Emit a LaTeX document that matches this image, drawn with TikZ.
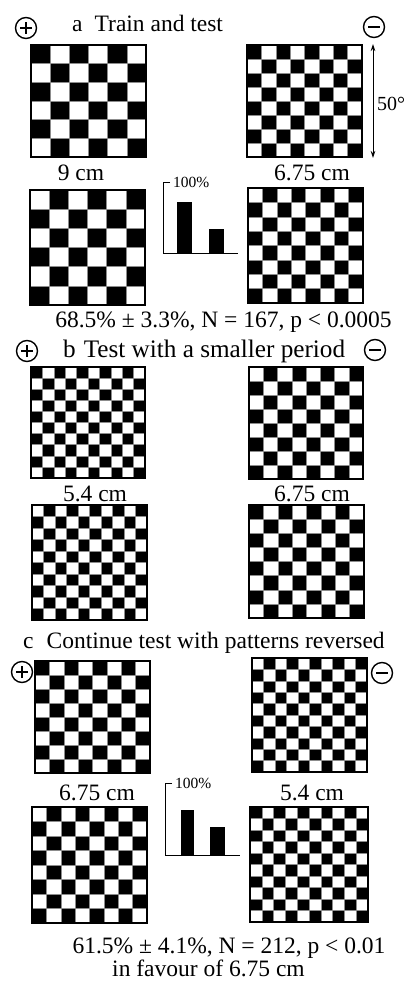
\documentclass[tikz,border=0pt]{standalone}
\usepackage{fontspec}
\setmainfont{Liberation Serif}
\usetikzlibrary{arrows.meta}
\newcommand{\chkb}[6]{%
  \pgfmathsetmacro\chkcw{(#3-#1)/#5}%
  \pgfmathsetmacro\chkch{(#4-#2)/#5}%
  \pgfmathtruncatemacro\chkn{#5-1}%
  \foreach \i in {0,...,\chkn}{\foreach \j in {0,...,\chkn}{%
    \pgfmathtruncatemacro\chkpar{mod(\i+\j+#6,2)}%
    \ifnum\chkpar=0 \fill (#1+\i*\chkcw,#2+\j*\chkch) rectangle ++(\chkcw,\chkch);\fi
  }}%
  \foreach \k in {1,...,\chkn}{%
    \draw[gridln] (#1+\k*\chkcw,#2) -- (#1+\k*\chkcw,#4);
    \draw[gridln] (#1,#2+\k*\chkch) -- (#3,#2+\k*\chkch);
  }%
  \draw[boardframe] (#1,#2) rectangle (#3,#4);
}
\begin{document}
\begin{tikzpicture}[x=1pt,y=-1pt,
  gridln/.style={line width=0.5pt,black!45},
  boardframe/.style={line width=1.2pt},
  txt/.style={inner sep=0pt,font=\fontsize{23.5}{28}\selectfont},
  small/.style={inner sep=0pt,font=\fontsize{15.5}{18}\selectfont},
  signsym/.style={circle,draw,line width=1.4pt,minimum size=21pt,inner sep=0pt},
  signbar/.style={line width=1.4pt},
  axisln/.style={line width=1pt},
  bar/.style={fill=black}]
\useasboundingbox (0,0) rectangle (406,982);

% ---------- a ----------
\node[signsym] (pa) at (26,28) {};
\draw[signbar] ([xshift=-6pt]pa.center) -- ([xshift=6pt]pa.center);
\draw[signbar] ([yshift=-6pt]pa.center) -- ([yshift=6pt]pa.center);
\node[signsym] (ma) at (374,27) {};
\draw[signbar] ([xshift=-6pt]ma.center) -- ([xshift=6pt]ma.center);
\node[txt,anchor=base west] (ta) at (72,32) {a\hspace{12pt}Train and test};

\chkb{31}{45}{146}{157}{6}{0}
\chkb{247}{45}{362}{157}{8}{0}
\chkb{30}{190}{145}{305}{6}{1}
\chkb{248}{188}{363}{303}{8}{1}

\coordinate (ar1) at (373,44);
\coordinate (ar2) at (373,158);
\draw[line width=0.9pt,{Stealth[length=7pt,width=4.5pt]}-{Stealth[length=7pt,width=4.5pt]}] (ar1) -- (ar2);
\node[inner sep=0pt,font=\fontsize{20}{24}\selectfont,anchor=base west] (deg) at (377,110) {50°};

\node[txt,anchor=base] (la1) at (81,180) {9 cm};
\node[txt,anchor=base] (la2) at (312,180) {6.75 cm};

\coordinate (axa) at (163,253);
\draw[axisln] (170,182) -- (163,182) -- (axa) -- (238,253);
\fill[bar] (177,202) rectangle (192,253);
\fill[bar] (209,229) rectangle (224,253);
\node[small,anchor=west] (pca) at (173,182) {100\%};

\node[txt,anchor=base] (resa) at (223.5,327) {68.5\% ± 3.3\%, N = 167, p < 0.0005};

% ---------- b ----------
\node[signsym] (pb) at (27,351) {};
\draw[signbar] ([xshift=-6pt]pb.center) -- ([xshift=6pt]pb.center);
\draw[signbar] ([yshift=-6pt]pb.center) -- ([yshift=6pt]pb.center);
\node[signsym] (mb) at (375,350) {};
\draw[signbar] ([xshift=-6pt]mb.center) -- ([xshift=6pt]mb.center);
\node[inner sep=0pt,font=\fontsize{25.2}{30}\selectfont,anchor=base west] (tb) at (63,357) {b\hspace{8pt}Test with a smaller period};

\chkb{31}{367}{145}{478}{10}{0}
\chkb{249}{367}{363}{479}{8}{1}
\node[txt,anchor=base] (lb1) at (95,501) {5.4 cm};
\node[txt,anchor=base] (lb2) at (312,501) {6.75 cm};
\chkb{32}{505}{147}{620}{10}{1}
\chkb{249}{505}{364}{618}{8}{0}

% ---------- c ----------
\node[txt,anchor=base west] (tc) at (23,648) {c\hspace{13pt}Continue test with patterns reversed};
\node[signsym] (pc) at (22,672) {};
\draw[signbar] ([xshift=-6pt]pc.center) -- ([xshift=6pt]pc.center);
\draw[signbar] ([yshift=-6pt]pc.center) -- ([yshift=6pt]pc.center);
\node[signsym] (mc) at (382,673) {};
\draw[signbar] ([xshift=-6pt]mc.center) -- ([xshift=6pt]mc.center);

\chkb{35}{661}{150}{773}{8}{0}
\chkb{252}{658}{367}{772}{10}{1}
\node[txt,anchor=base] (lc1) at (97,800) {6.75 cm};
\node[txt,anchor=base] (lc2) at (312,800) {5.4 cm};
\chkb{32}{807}{147}{923}{8}{1}
\chkb{250}{807}{368}{922}{10}{0}

\coordinate (axc) at (165,855);
\draw[axisln] (172,783) -- (165,783) -- (axc) -- (240,855);
\fill[bar] (181,810) rectangle (194,855);
\fill[bar] (210,827) rectangle (225,855);
\node[small,anchor=west] (pcc) at (175,783) {100\%};

\node[txt,anchor=base] (resc) at (229,953) {61.5\% ± 4.1\%, N = 212, p < 0.01};
\node[txt,anchor=base] (resc2) at (208.5,976) {in favour of 6.75 cm};
\end{tikzpicture}
\end{document}
